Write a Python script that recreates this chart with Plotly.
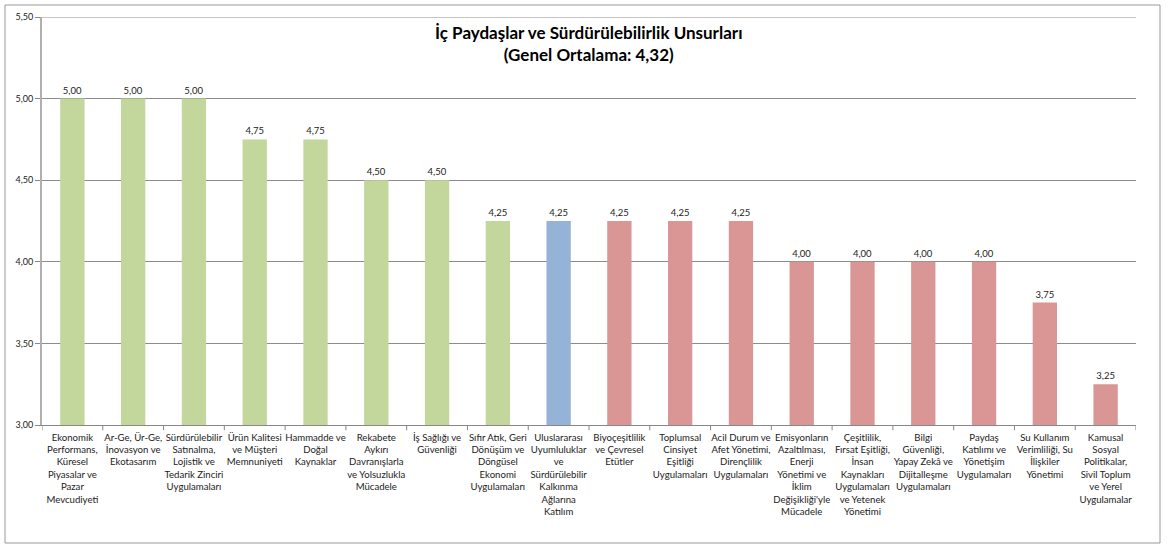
import plotly.graph_objects as go

categories = [
    "Ekonomik<br>Performans,<br>Küresel<br>Piyasalar ve<br>Pazar<br>Mevcudiyeti",
    "Ar-Ge, Ür-Ge,<br>İnovasyon ve<br>Ekotasarım",
    "Sürdürülebilir<br>Satınalma,<br>Lojistik ve<br>Tedarik Zinciri<br>Uygulamaları",
    "Ürün Kalitesi<br>ve Müşteri<br>Memnuniyeti",
    "Hammadde ve<br>Doğal<br>Kaynaklar",
    "Rekabete<br>Aykırı<br>Davranışlarla<br>ve Yolsuzlukla<br>Mücadele",
    "İş Sağlığı ve<br>Güvenliği",
    "Sıfır Atık, Geri<br>Dönüşüm ve<br>Döngüsel<br>Ekonomi<br>Uygulamaları",
    "Uluslararası<br>Uyumluluklar<br>ve<br>Sürdürülebilir<br>Kalkınma<br>Ağlarına<br>Katılım",
    "Biyoçeşitlilik<br>ve Çevresel<br>Etütler",
    "Toplumsal<br>Cinsiyet<br>Eşitliği<br>Uygulamaları",
    "Acil Durum ve<br>Afet Yönetimi,<br>Dirençlilik<br>Uygulamaları",
    "Emisyonların<br>Azaltılması,<br>Enerji<br>Yönetimi ve<br>İklim<br>Değişikliği'yle<br>Mücadele",
    "Çeşitlilik,<br>Fırsat Eşitliği,<br>İnsan<br>Kaynakları<br>Uygulamaları<br>ve Yetenek<br>Yönetimi",
    "Bilgi<br>Güvenliği,<br>Yapay Zekâ ve<br>Dijitalleşme<br>Uygulamaları",
    "Paydaş<br>Katılımı ve<br>Yönetişim<br>Uygulamaları",
    "Su Kullanım<br>Verimliliği, Su<br>İlişkiler<br>Yönetimi",
    "Kamusal<br>Sosyal<br>Politikalar,<br>Sivil Toplum<br>ve Yerel<br>Uygulamalar",
]
values = [5.00, 5.00, 5.00, 4.75, 4.75, 4.50, 4.50, 4.25, 4.25, 4.25, 4.25, 4.25,
          4.00, 4.00, 4.00, 4.00, 3.75, 3.25]
groups = ["g"] * 8 + ["b"] + ["r"] * 9
group_colors = {"g": "#C3D69B", "b": "#95B3D7", "r": "#D99694"}
y_ticks = [3.00, 3.50, 4.00, 4.50, 5.00, 5.50]

font_family = "Lato, 'Open Sans', sans-serif"

fig = go.Figure(go.Bar(
    x=list(range(len(categories))),
    y=values,
    base=0,
    width=0.4,
    marker=dict(color=[group_colors[g] for g in groups], line=dict(width=0)),
    text=[f"{v:.2f}".replace(".", ",") for v in values],
    textposition="outside",
    cliponaxis=False,
    textfont=dict(size=9.5, color="#222", family=font_family),
))

fig.update_layout(
    width=1168, height=547,
    margin=dict(l=42, r=32, t=17, b=122),
    paper_bgcolor="white", plot_bgcolor="white",
    separators=",.",
    showlegend=False,
    bargap=0.6,
    font=dict(family=font_family, size=9, color="#222"),
)
fig.update_xaxes(
    tickmode="array",
    tickvals=list(range(len(categories))),
    ticktext=categories,
    range=[-0.5, len(categories) - 0.5],
    showline=True, linecolor="#888", linewidth=1,
    ticks="", showgrid=False,
    tickangle=0,
    ticklabelstandoff=3,
    tickfont=dict(size=9.6, family=font_family, color="#222"),
)
# boundary ticks on x
for i in range(len(categories) + 1):
    fig.add_shape(type="line", xref="x", yref="paper", x0=i - 0.5, x1=i - 0.5,
                  y0=0, y1=-0.013, line=dict(color="#888", width=1))
fig.update_yaxes(
    range=[3.0, 5.5],
    tickvals=y_ticks,
    tickformat=".2f",
    showgrid=True, gridcolor="#8c8c8c", gridwidth=1,
    showline=True, linecolor="#b0b0b0", linewidth=2,
    ticks="outside", ticklen=5, tickcolor="#888",
    tickfont=dict(size=9, family=font_family, color="#222"),
    zeroline=False,
)
# top gridline at the maximum of the value axis
fig.add_shape(type="line", xref="paper", yref="y", x0=0, x1=1, y0=y_ticks[-1], y1=y_ticks[-1],
              line=dict(color="#8c8c8c", width=1))
fig.add_annotation(
    xref="paper", yref="paper", x=0.5, y=0.935, xanchor="center", yanchor="middle",
    text="<b>İç Paydaşlar ve Sürdürülebilirlik Unsurları<br>(Genel Ortalama: 4,32)</b>",
    showarrow=False, font=dict(size=17, family=font_family, color="#000"),
)
fig.add_shape(type="rect", xref="paper", yref="paper",
              x0=(5 - 42) / 1094, x1=(1160 - 42) / 1094,
              y0=(425 - 543) / 408, y1=(425 - 5) / 408,
              line=dict(color="#999", width=1), layer="below")

fig.write_html("out.html", config={"displayModeBar": False},
               post_script="document.body.style.margin='0';")
